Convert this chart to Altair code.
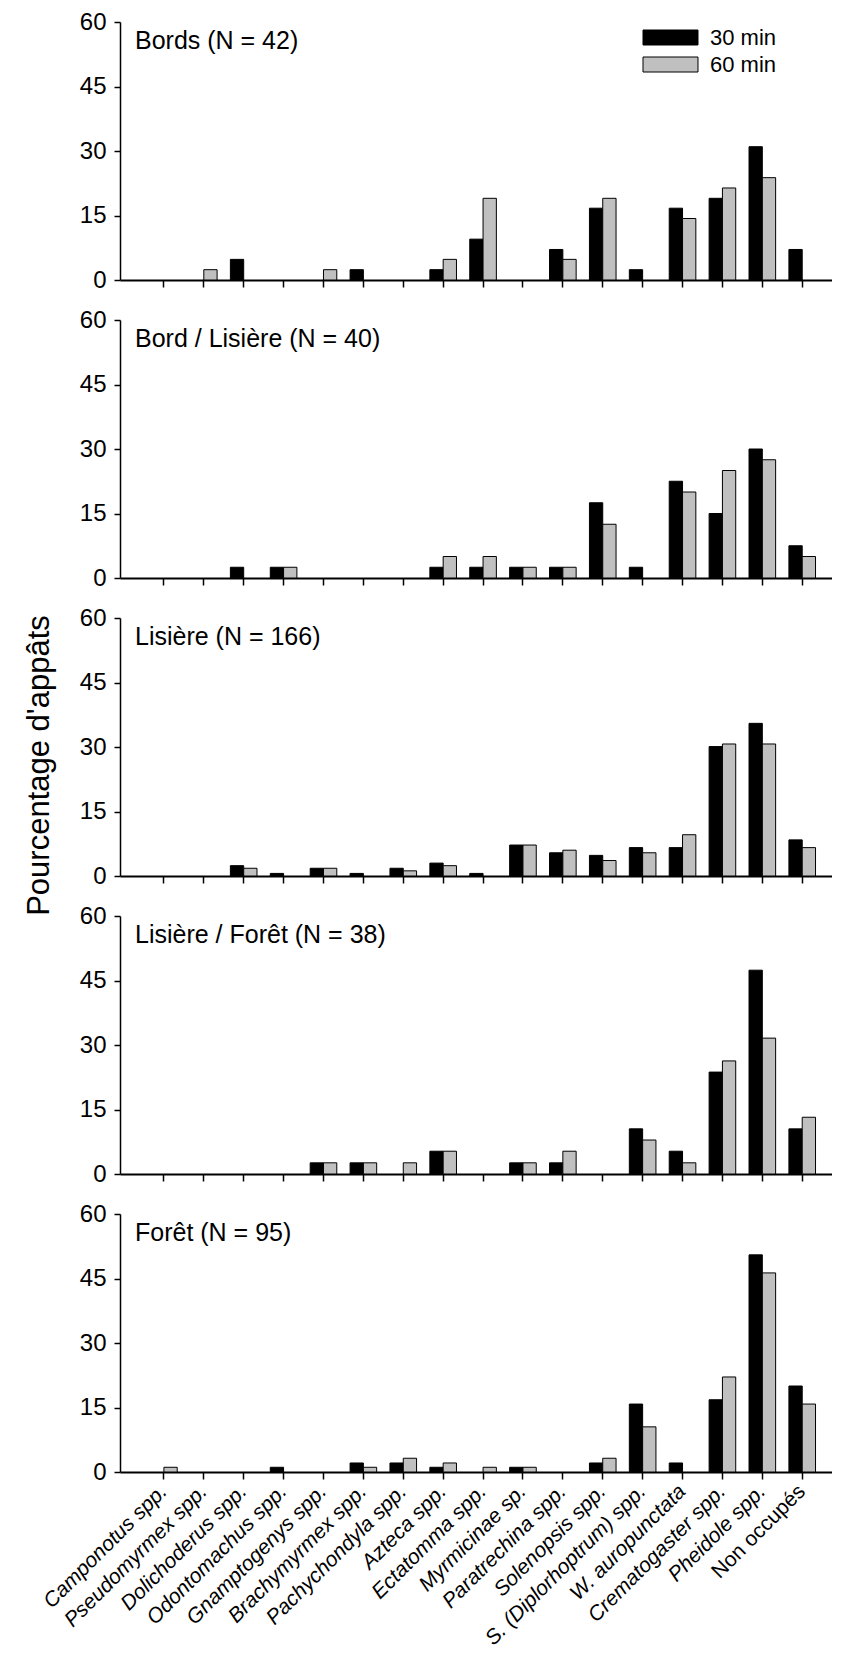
import altair as alt
import pandas as pd

categories = ["Camponotus spp.", "Pseudomyrmex spp.", "Dolichoderus spp.", "Odontomachus spp.",
              "Gnamptogenys spp.", "Brachymyrmex spp.", "Pachychondyla spp.", "Azteca spp.",
              "Ectatomma spp.", "Myrmicinae sp.", "Paratrechina spp.", "Solenopsis spp.",
              "S. (Diplorhoptrum) spp.", "W. auropunctata", "Crematogaster spp.",
              "Pheidole spp.", "Non occupés"]

panels = ["Bords (N = 42)", "Bord / Lisière (N = 40)", "Lisière (N = 166)",
          "Lisière / Forêt (N = 38)", "Forêt (N = 95)"]
series = ["30 min", "60 min"]

bords_30 = [0, 0, 4.8, 0, 0, 2.4, 0, 2.4, 9.5, 0, 7.1, 16.7, 2.4, 16.7, 19.0, 31.0, 7.1]
bords_60 = [0, 2.4, 0, 0, 2.4, 0, 0, 4.8, 19.0, 0, 4.8, 19.0, 0, 14.3, 21.4, 23.8, 0]
bl_30 = [0, 0, 2.5, 2.5, 0, 0, 0, 2.5, 2.5, 2.5, 2.5, 17.5, 2.5, 22.5, 15.0, 30.0, 7.5]
bl_60 = [0, 0, 0, 2.5, 0, 0, 0, 5.0, 5.0, 2.5, 2.5, 12.5, 0, 20.0, 25.0, 27.5, 5.0]
lis_30 = [0, 0, 2.4, 0.6, 1.8, 0.6, 1.8, 3.0, 0.6, 7.2, 5.4, 4.8, 6.6, 6.6, 30.1, 35.5, 8.4]
lis_60 = [0, 0, 1.8, 0, 1.8, 0, 1.2, 2.4, 0, 7.2, 6.0, 3.6, 5.4, 9.6, 30.7, 30.7, 6.6]
lf_30 = [0, 0, 0, 0, 2.6, 2.6, 0, 5.3, 0, 2.6, 2.6, 0, 10.5, 5.3, 23.7, 47.4, 10.5]
lf_60 = [0, 0, 0, 0, 2.6, 2.6, 2.6, 5.3, 0, 2.6, 5.3, 0, 7.9, 2.6, 26.3, 31.6, 13.2]
foret_30 = [0, 0, 0, 1.1, 0, 2.1, 2.1, 1.1, 0, 1.1, 0, 2.1, 15.8, 2.1, 16.8, 50.5, 20.0]
foret_60 = [1.1, 0, 0, 0, 0, 1.1, 3.2, 2.1, 1.1, 1.1, 0, 3.2, 10.5, 0, 22.1, 46.3, 15.8]

values = [(bords_30, bords_60), (bl_30, bl_60), (lis_30, lis_60), (lf_30, lf_60), (foret_30, foret_60)]

FONT = "Liberation Sans, Arial, sans-serif"
W, H = 712, 258

rows = []
for p, (v30, v60) in zip(panels, values):
    for c, a, b in zip(categories, v30, v60):
        rows.append({"panel": p, "category": c, "series": series[0], "value": a})
        rows.append({"panel": p, "category": c, "series": series[1], "value": b})
df = pd.DataFrame(rows)


def make_panel(i, name):
    last = i == len(panels) - 1
    if last:
        xaxis = alt.Axis(title=None, labelAngle=-45, labelAlign="right", labelBaseline="middle",
                         labelFontSize=21, labelFont=FONT, labelPadding=9,
                         labelFontStyle=alt.expr("datum.value == 'Non occupés' ? 'normal' : 'italic'"),
                         tickSize=7, tickWidth=1.5, domainWidth=2, labelColor="black",
                         labelOverlap=False, labelLimit=400)
    else:
        xaxis = alt.Axis(title=None, labels=False, tickSize=7, tickWidth=1.5, domainWidth=2)
    ytitle = "Pourcentage d'appâts" if i == 2 else None
    yaxis_kwargs = dict(values=[0, 15, 30, 45, 60], labelFontSize=24, labelFont=FONT,
                        tickSize=6, tickWidth=1.5, domainWidth=1.5, labelPadding=8,
                        labelColor="black", grid=False)
    if ytitle:
        yaxis = alt.Axis(title=ytitle, titleFontSize=31, titleFont=FONT, titleFontWeight="normal",
                         titlePadding=24, titleColor="black", titleY=H / 2 + 18, **yaxis_kwargs)
    else:
        yaxis = alt.Axis(title=None, **yaxis_kwargs)
    if i == 0:
        legend = alt.Legend(orient="none", legendX=535, legendY=0, title=None,
                            symbolType="M-1.833,-0.5H1.833V0.5H-1.833Z", symbolSize=900,
                            symbolStrokeColor="black", symbolStrokeWidth=1, symbolOpacity=1,
                            labelFontSize=22, labelFont=FONT, labelOffset=24, rowPadding=0,
                            labelColor="black")
    else:
        legend = None
    d = df[df.panel == name]
    bars = alt.Chart(d).transform_filter("datum.value > 0").mark_bar(
        stroke="black", strokeWidth=1, opacity=1).encode(
        x=alt.X("category:N", sort=categories,
                scale=alt.Scale(domain=categories, paddingInner=0.333, paddingOuter=0.59, align=0.65),
                axis=xaxis),
        xOffset=alt.XOffset("series:N", sort=series,
                            scale=alt.Scale(domain=series, paddingInner=0, paddingOuter=0)),
        y=alt.Y("value:Q", scale=alt.Scale(domain=[0, 60], nice=False), axis=yaxis),
        color=alt.Color("series:N", scale=alt.Scale(domain=series, range=["#000000", "#c0c0c0"]),
                        legend=legend),
    )
    label = alt.Chart(pd.DataFrame({"label": [name]})).mark_text(
        align="left", baseline="alphabetic", fontSize=25, font=FONT, color="black").encode(
        x=alt.value(15), y=alt.value(27), text="label:N")
    return alt.layer(bars, label).properties(width=W, height=H)


charts = [make_panel(i, p) for i, p in enumerate(panels)]

chart = alt.vconcat(*charts, spacing=40, bounds="flush").resolve_scale(
    color="independent", x="independent", y="independent"
).properties(
    padding={"left": 15, "top": 2, "right": 0, "bottom": 0}
).configure_view(stroke=None).configure_axis(domainColor="black", tickColor="black")

chart.save("out.html", embed_options={"renderer": "svg", "actions": False})
